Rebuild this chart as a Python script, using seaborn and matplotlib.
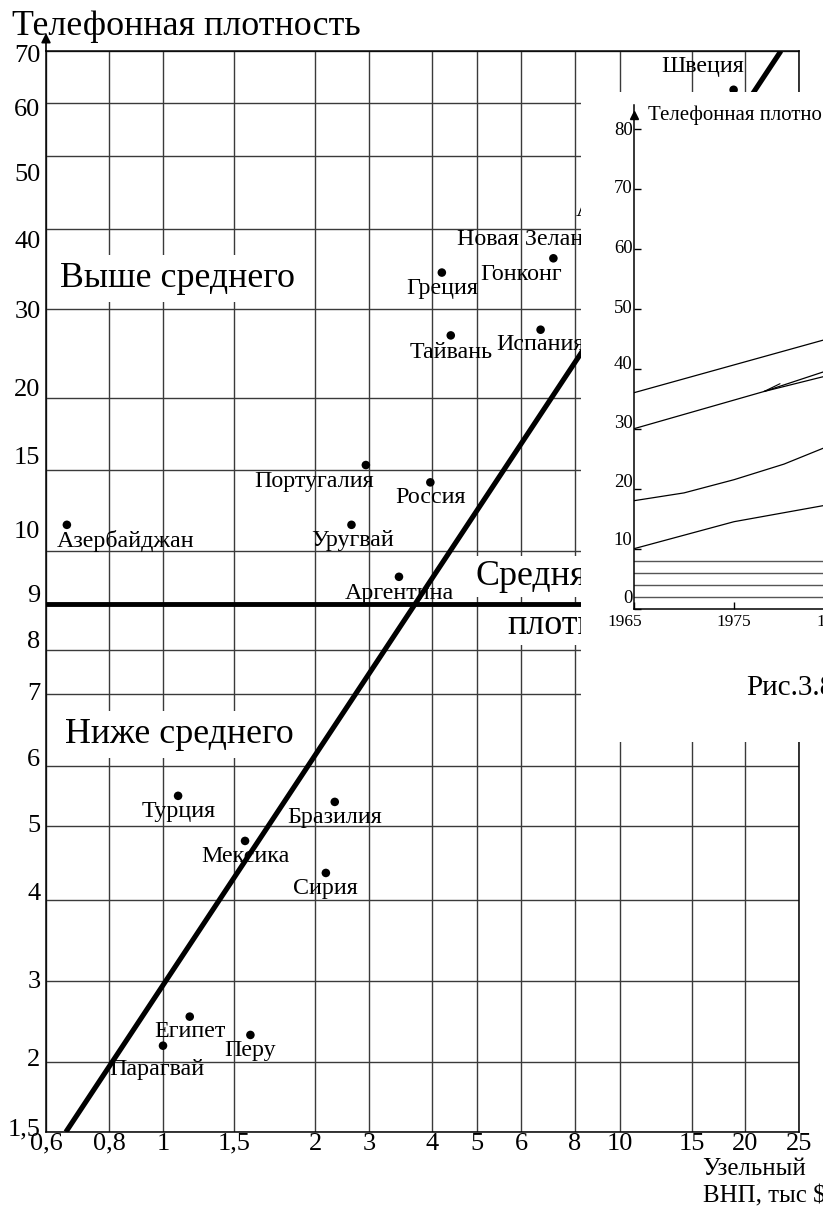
import numpy as np
import matplotlib
matplotlib.use("Agg")
import matplotlib.pyplot as plt
import matplotlib.transforms as mtransforms
from matplotlib.patches import Rectangle
import seaborn as sns

# --- main chart data: GNP per capita (thousand $) vs telephone density
countries = ["Азербайджан", "Португалия", "Уругвай", "Аргентина", "Россия",
             "Тайвань", "Испания", "Греция", "Гонконг", "Швеция",
             "Турция", "Бразилия", "Мексика", "Сирия",
             "Египет", "Парагвай", "Перу"]
gnp = [0.66, 2.93, 2.63, 3.44, 3.97,
       4.39, 6.66, 4.20, 7.13, 18.8,
       1.09, 2.32, 1.56, 2.17,
       1.165, 1.0, 1.59]
density = [11.4, 15.3, 11.4, 9.5, 14.1,
           26.6, 27.3, 34.2, 36.0, 62.4,
           5.48, 5.38, 4.78, 4.34,
           2.51, 2.17, 2.29]

trend_gnp = [0.657, 23.2]
trend_density = [1.5, 70]
mean_density = 9

x_ticks = [0.6, 0.8, 1, 1.5, 2, 3, 4, 5, 6, 8, 10, 15, 20, 25]
x_labels = ["0,6", "0,8", "1", "1,5", "2", "3", "4", "5", "6", "8", "10", "15", "20", "25"]
y_ticks = [1.5, 2, 3, 4, 5, 6, 7, 8, 9, 10, 15, 20, 30, 40, 50, 60, 70]
y_labels = ["1,5", "2", "3", "4", "5", "6", "7", "8", "9", "10", "15", "20", "30", "40", "50", "60", "70"]

# --- inset (part of the next figure) data
inset_years_a = [1965, 1984]
inset_line_a = [36, 44.8]
inset_years_b = [1965, 1978, 1984]
inset_line_b = [30, 36.2, 39.5]
inset_years_b2 = [1978, 1984]
inset_line_b2 = [36.2, 38.7]
inset_years_c = [1965, 1970, 1975, 1980, 1984]
inset_line_c = [18.0, 19.3, 21.5, 24.1, 26.8]
inset_years_d = [1965, 1975, 1984]
inset_line_d = [10, 14.5, 17.2]
inset_flat = [8, 6, 4, 2]

# --- layout (pixel positions of the hand-drawn grid in the 823x1212 image)
W, H = 823, 1212
x_grid_px = [46, 109, 163, 234, 315, 369, 432, 477, 521, 575, 620, 692, 745, 799]
y_grid_px = [1132, 1062, 981, 900, 826, 766, 694, 650, 604, 551, 470, 398, 309, 229, 156, 103, 51]
# how far each y label sits below (+) / above (-) its grid line, px
y_label_dy = [-5, -4, -1, -9, -3, -9, -3, -10, -11, -21, -14, -10, 0, 11, 17, 5, 2]
inset_label_dy = [-12, -10, -8, -7, -6, -2, -2, -2, 0]
AX_L, AX_R, AX_T, AX_B = 46, 799, 51, 1132

def fx(p):
    return p / W

def fy(p):
    return 1 - p / H

gx = (np.array(x_grid_px) - AX_L) / (AX_R - AX_L)
gy = (AX_B - np.array(y_grid_px)) / (AX_B - AX_T)
lx = np.log10(x_ticks)
ly = np.log10(y_ticks)

def fwd_x(v):
    return np.interp(np.log10(np.clip(v, 1e-9, None)), lx, gx)

def inv_x(p):
    return 10 ** np.interp(p, gx, lx)

def fwd_y(v):
    return np.interp(np.log10(np.clip(v, 1e-9, None)), ly, gy)

def inv_y(p):
    return 10 ** np.interp(p, gy, ly)

sns.set_theme(style="white")
plt.rcParams['font.family'] = ['Liberation Serif', 'DejaVu Serif']
for k in ['text.color', 'axes.labelcolor', 'xtick.color', 'ytick.color', 'axes.edgecolor']:
    plt.rcParams[k] = 'black'

fig = plt.figure(figsize=(W / 100, H / 100), dpi=100)
fig.patch.set_facecolor("white")

def nudge(labels, dys, dxs=None):
    dxs = dxs or [0] * len(dys)
    for lab, dy, dx in zip(labels, dys, dxs):
        t = mtransforms.ScaledTranslation(dx / 100, -dy / 100, fig.dpi_scale_trans)
        lab.set_transform(lab.get_transform() + t)

ax = fig.add_axes([fx(AX_L), fy(AX_B), (AX_R - AX_L) / W, (AX_B - AX_T) / H])
ax.set_xscale('function', functions=(fwd_x, inv_x))
ax.set_yscale('function', functions=(fwd_y, inv_y))

sns.scatterplot(x=gnp, y=density, s=38, color="black", edgecolor="none",
                zorder=5, legend=False, ax=ax)
ax.plot(trend_gnp, trend_density, color="black", lw=3.7, solid_capstyle="butt", zorder=4)
ax.axhline(mean_density, color="black", lw=3.5, zorder=4)

ax.set_xlim(0.6, 25)
ax.set_ylim(1.5, 70)
ax.set_xticks(x_ticks)
ax.set_xticklabels(x_labels)
ax.set_yticks(y_ticks)
ax.set_yticklabels(y_labels)
ax.grid(True, color="#3a3a3a", lw=1.0)
ax.set_axisbelow(True)
ax.tick_params(length=0, labelsize=19, colors="black")
ax.tick_params(axis="x", pad=0.5)
ax.tick_params(axis="y", pad=4)
for s in ax.spines.values():
    s.set_linewidth(1.1)
    s.set_color("black")
ax.set_xlabel("")
ax.set_ylabel("")

# y axis arrow
ax.annotate("", xy=(0, 1 + 18 / (AX_B - AX_T)), xytext=(0, 1), xycoords="axes fraction",
            arrowprops=dict(arrowstyle="-|>", color="black", lw=1.2,
                            mutation_scale=14, shrinkA=0, shrinkB=0))

# country labels: offsets in points from the dot
offsets = {
    "Азербайджан": (42, -11.5), "Португалия": (-37, -11.5), "Уругвай": (0.5, -11.5),
    "Аргентина": (0, -12), "Россия": (0, -11), "Тайвань": (0, -12), "Испания": (0, -11),
    "Греция": (0, -11.5), "Гонконг": (-23, -11.5), "Швеция": (-22.5, 16.5),
    "Турция": (0.5, -11), "Бразилия": (0, -11), "Мексика": (0, -11.5), "Сирия": (0, -11),
    "Египет": (0, -11), "Парагвай": (-4.5, -17), "Перу": (0, -11.5),
}
for name, xv, yv in zip(countries, gnp, density):
    ax.annotate(name, (xv, yv), xytext=offsets[name], textcoords="offset points",
                ha="center", va="center", fontsize=17.3, color="black", zorder=3)

def axfrac(px, py):
    return ((px - AX_L) / (AX_R - AX_L), (AX_B - py) / (AX_B - AX_T))

# labels whose dots are hidden behind the inset
ax.text(*axfrac(457, 245), "Новая Зеландия", fontsize=17.3, ha="left", va="baseline",
        transform=ax.transAxes)
ax.text(*axfrac(576, 216), "Австралия", fontsize=17.3, ha="left", va="baseline",
        transform=ax.transAxes)

box = dict(facecolor="white", edgecolor="none", pad=5)
ax.text(*axfrac(60, 287), "Выше среднего", fontsize=25.8, ha="left", va="baseline",
        transform=ax.transAxes, bbox=box, zorder=3)
ax.text(*axfrac(65, 743), "Ниже среднего", fontsize=25.8, ha="left", va="baseline",
        transform=ax.transAxes, bbox=box, zorder=3)
ax.text(*axfrac(475, 585), "Средняя", fontsize=25.8, ha="left", va="baseline",
        transform=ax.transAxes, bbox=dict(facecolor="white", edgecolor="none", pad=3), zorder=3)
ax.text(*axfrac(507, 634), "плотность", fontsize=25.8, ha="left", va="baseline",
        transform=ax.transAxes, bbox=dict(facecolor="white", edgecolor="none", pad=2), zorder=3)

nudge(ax.get_yticklabels(), y_label_dy)

fig.text(fx(12), fy(35), "Телефонная плотность", fontsize=25.8, ha="left", va="baseline")
fig.text(fx(702), fy(1175), "Узельный", fontsize=17.9, ha="left", va="baseline")
fig.text(fx(703), fy(1202), "ВНП, тыс $", fontsize=17.9, ha="left", va="baseline")

# white sheet of the overlapping figure
fig.add_artist(Rectangle((fx(581), fy(742)), (W - 581) / W, (742 - 92) / H,
                         transform=fig.transFigure, facecolor="white",
                         edgecolor="none", zorder=1))

# inset axes, running off the right edge of the image
axi = fig.add_axes([fx(634), fy(608.7), 300 / W, 504 / H])
axi.set_zorder(2)
axi.patch.set_alpha(0)
for yrs, vals in [(inset_years_a, inset_line_a), (inset_years_b, inset_line_b),
                  (inset_years_b2, inset_line_b2), (inset_years_c, inset_line_c),
                  (inset_years_d, inset_line_d)]:
    sns.lineplot(x=yrs, y=vals, color="black", lw=0.9, estimator=None, sort=False, ax=axi)
for v in inset_flat:
    axi.axhline(v, color="#555555", lw=1.0)
axi.plot([1978, 1979.6], [36.2, 37.5], color="black", lw=0.8)
axi.set_xlim(1965, 1995)
axi.set_ylim(0, 84)
axi.set_xticks([1965, 1975, 1985])
axi.set_yticks(range(0, 81, 10))
axi.tick_params(direction="in", length=5, width=1, pad=1,
                colors="black", left=True, bottom=True)
axi.tick_params(axis="y", labelsize=13.5)
axi.tick_params(axis="x", labelsize=12.5, pad=4)
for side in ["top", "right"]:
    axi.spines[side].set_visible(False)
for side in ["left", "bottom"]:
    axi.spines[side].set_linewidth(1.1)
    axi.spines[side].set_color("black")
axi.plot([1965], [82.3], marker="^", ms=6, color="black", clip_on=False)
axi.text(1966.4, 82.2, "Телефонная плотность", fontsize=15, ha="left",
         va="center", clip_on=False)
axi.set_xlabel("")
axi.set_ylabel("")
nudge(axi.get_yticklabels(), inset_label_dy)
nudge(axi.get_xticklabels(), [0, 0, 0], [-9, 0, 0])

fig.text(fx(746), fy(695), "Рис.3.8", fontsize=21, ha="left", va="baseline")

fig.savefig("out.png", dpi=100)
